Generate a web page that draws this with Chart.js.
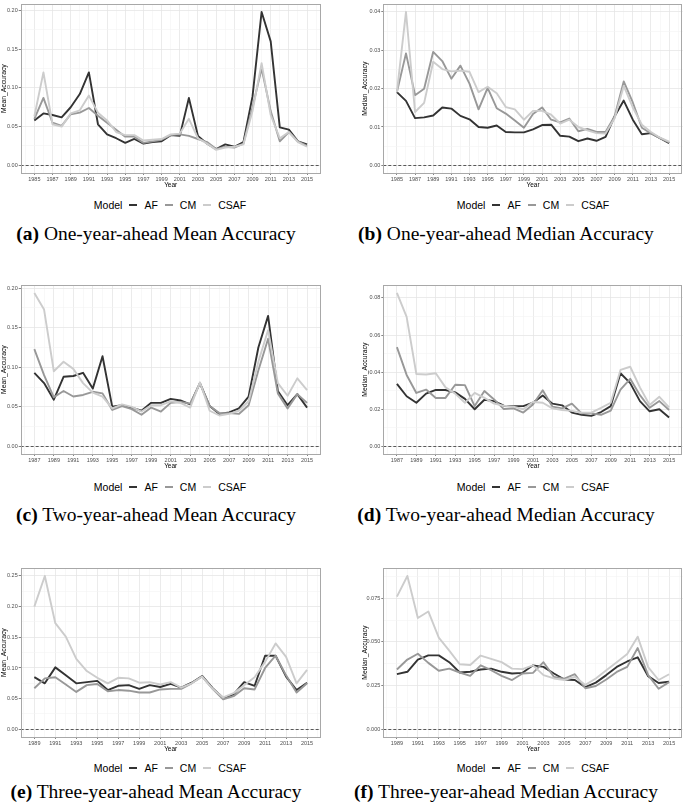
<!DOCTYPE html>
<html>
<head>
<meta charset="utf-8">
<script src="https://cdn.jsdelivr.net/npm/chart.js@4.4.1/dist/chart.umd.min.js"></script>
<style>
  body { margin: 0; background: #fff; width: 685px; height: 802px; position: relative; overflow: hidden;
         font-family: "Liberation Sans", Arial, sans-serif; }
  canvas { position: absolute; }
  .legend { position: absolute; display: flex; align-items: center; justify-content: center; gap: 7px;
            font-size: 10.5px; height: 14px; color: #000; }
  .legend i { display: inline-block; width: 8px; height: 2px; }
  .cap { position: absolute; text-align: center; white-space: nowrap;
         font-family: "Liberation Serif", "DejaVu Serif", serif; font-size: 19.5px; line-height: 22px; }
</style>
</head>
<body>

<canvas id="c-a" width="325" height="189" style="left:0;top:0"></canvas>
<canvas id="c-b" width="345" height="189" style="left:340px;top:0"></canvas>
<canvas id="c-c" width="325" height="189" style="left:0;top:281px"></canvas>
<canvas id="c-d" width="345" height="189" style="left:340px;top:281px"></canvas>
<canvas id="c-e" width="325" height="189" style="left:0;top:564px"></canvas>
<canvas id="c-f" width="345" height="189" style="left:340px;top:564px"></canvas>

<div class="legend" style="left:0;width:340px;top:198px"><span>Model</span><i style="background:#333"></i><span>AF</span><i style="background:#989898"></i><span>CM</span><i style="background:#ccc"></i><span>CSAF</span></div>
<div class="legend" style="left:363px;width:340px;top:198px"><span>Model</span><i style="background:#333"></i><span>AF</span><i style="background:#989898"></i><span>CM</span><i style="background:#ccc"></i><span>CSAF</span></div>
<div class="legend" style="left:0;width:340px;top:480px"><span>Model</span><i style="background:#333"></i><span>AF</span><i style="background:#989898"></i><span>CM</span><i style="background:#ccc"></i><span>CSAF</span></div>
<div class="legend" style="left:363px;width:340px;top:480px"><span>Model</span><i style="background:#333"></i><span>AF</span><i style="background:#989898"></i><span>CM</span><i style="background:#ccc"></i><span>CSAF</span></div>
<div class="legend" style="left:0;width:340px;top:761px"><span>Model</span><i style="background:#333"></i><span>AF</span><i style="background:#989898"></i><span>CM</span><i style="background:#ccc"></i><span>CSAF</span></div>
<div class="legend" style="left:363px;width:340px;top:761px"><span>Model</span><i style="background:#333"></i><span>AF</span><i style="background:#989898"></i><span>CM</span><i style="background:#ccc"></i><span>CSAF</span></div>

<div class="cap" style="left:0;width:312px;top:223px"><b>(a)</b> One-year-ahead Mean Accuracy</div>
<div class="cap" style="left:340px;width:332px;top:223px"><b>(b)</b> One-year-ahead Median Accuracy</div>
<div class="cap" style="left:0;width:312px;top:504px"><b>(c)</b> Two-year-ahead Mean Accuracy</div>
<div class="cap" style="left:340px;width:332px;top:504px"><b>(d)</b> Two-year-ahead Median Accuracy</div>
<div class="cap" style="left:0;width:312px;top:781px"><b>(e)</b> Three-year-ahead Mean Accuracy</div>
<div class="cap" style="left:340px;width:332px;top:781px"><b>(f)</b> Three-year-ahead Median Accuracy</div>

<script>
// ---- years on the x axis ----
const yearsOne = [1985,1986,1987,1988,1989,1990,1991,1992,1993,1994,1995,1996,1997,1998,1999,2000,
                  2001,2002,2003,2004,2005,2006,2007,2008,2009,2010,2011,2012,2013,2014,2015];
const yearsTwo = [1987,1988,1989,1990,1991,1992,1993,1994,1995,1996,1997,1998,1999,2000,
                  2001,2002,2003,2004,2005,2006,2007,2008,2009,2010,2011,2012,2013,2014,2015];
const yearsThree = [1989,1990,1991,1992,1993,1994,1995,1996,1997,1998,1999,2000,
                    2001,2002,2003,2004,2005,2006,2007,2008,2009,2010,2011,2012,2013,2014,2015];

// ---- (a) one-year-ahead mean accuracy ----
const afMeanOne   = [0.058,0.067,0.065,0.062,0.075,0.092,0.120,0.053,0.040,0.035,0.029,0.034,0.028,0.030,0.031,0.039,
                     0.038,0.087,0.038,0.028,0.021,0.027,0.024,0.030,0.089,0.198,0.160,0.049,0.046,0.031,0.027];
const cmMeanOne   = [0.060,0.087,0.055,0.051,0.066,0.068,0.074,0.064,0.055,0.046,0.037,0.037,0.029,0.031,0.033,0.039,
                     0.040,0.038,0.034,0.030,0.021,0.024,0.023,0.028,0.075,0.125,0.070,0.031,0.043,0.031,0.025];
const csafMeanOne = [0.063,0.120,0.053,0.050,0.067,0.071,0.090,0.068,0.058,0.043,0.039,0.039,0.032,0.033,0.034,0.040,
                     0.041,0.060,0.035,0.028,0.020,0.023,0.024,0.027,0.070,0.132,0.065,0.035,0.043,0.030,0.024];

// ---- (b) one-year-ahead median accuracy ----
const afMedOne   = [0.0191,0.0168,0.0123,0.0125,0.0130,0.0151,0.0148,0.0129,0.0120,0.0100,0.0098,0.0104,0.0087,0.0086,0.0086,0.0094,
                    0.0105,0.0106,0.0077,0.0075,0.0063,0.0070,0.0064,0.0074,0.0128,0.0169,0.0119,0.0081,0.0084,0.0071,0.0058];
const cmMedOne   = [0.0191,0.0292,0.0183,0.0200,0.0296,0.0272,0.0226,0.0260,0.0213,0.0146,0.0202,0.0149,0.0135,0.0117,0.0098,0.0134,
                    0.0151,0.0119,0.0112,0.0122,0.0089,0.0095,0.0087,0.0087,0.0128,0.0219,0.0164,0.0098,0.0083,0.0071,0.0060];
const csafMedOne = [0.0191,0.0400,0.0139,0.0163,0.0270,0.0251,0.0245,0.0247,0.0244,0.0191,0.0205,0.0188,0.0152,0.0146,0.0119,0.0142,
                    0.0142,0.0132,0.0109,0.0119,0.0100,0.0091,0.0084,0.0083,0.0123,0.0207,0.0151,0.0106,0.0087,0.0072,0.0062];

// ---- (c) two-year-ahead mean accuracy ----
const afMeanTwo   = [0.093,0.080,0.059,0.088,0.089,0.093,0.073,0.114,0.050,0.052,0.049,0.045,0.055,0.055,
                     0.060,0.058,0.053,0.080,0.051,0.041,0.043,0.048,0.063,0.125,0.165,0.070,0.052,0.066,0.049];
const cmMeanTwo   = [0.123,0.090,0.062,0.070,0.063,0.065,0.069,0.067,0.046,0.051,0.047,0.040,0.049,0.044,
                     0.055,0.056,0.054,0.080,0.051,0.042,0.042,0.041,0.052,0.096,0.136,0.067,0.048,0.066,0.055];
const csafMeanTwo = [0.194,0.173,0.095,0.107,0.098,0.080,0.068,0.063,0.048,0.053,0.050,0.044,0.052,0.052,
                     0.057,0.055,0.049,0.081,0.045,0.039,0.041,0.045,0.057,0.107,0.147,0.080,0.064,0.086,0.071];

// ---- (d) two-year-ahead median accuracy ----
const afMedTwo   = [0.0337,0.0270,0.0235,0.0284,0.0304,0.0304,0.0291,0.0256,0.0200,0.0251,0.0244,0.0219,0.0217,0.0217,
                    0.0235,0.0274,0.0230,0.0221,0.0182,0.0170,0.0164,0.0185,0.0217,0.0394,0.0341,0.0244,0.0189,0.0200,0.0155];
const cmMedTwo   = [0.0535,0.0385,0.0288,0.0306,0.0261,0.0261,0.0332,0.0330,0.0217,0.0298,0.0253,0.0201,0.0205,0.0182,
                    0.0226,0.0302,0.0214,0.0205,0.0230,0.0178,0.0178,0.0170,0.0193,0.0306,0.0364,0.0276,0.0208,0.0244,0.0196];
const csafMedTwo = [0.0827,0.0698,0.0390,0.0387,0.0394,0.0318,0.0284,0.0235,0.0288,0.0261,0.0230,0.0219,0.0214,0.0200,
                    0.0239,0.0235,0.0205,0.0196,0.0191,0.0182,0.0182,0.0207,0.0235,0.0412,0.0429,0.0318,0.0223,0.0267,0.0210];

// ---- (e) three-year-ahead mean accuracy ----
const afMeanThree   = [0.085,0.075,0.101,0.088,0.075,0.077,0.079,0.064,0.071,0.072,0.066,0.072,
                       0.069,0.074,0.068,0.076,0.087,0.067,0.051,0.057,0.077,0.071,0.120,0.120,0.086,0.064,0.076];
const cmMeanThree   = [0.067,0.083,0.085,0.073,0.061,0.072,0.074,0.062,0.064,0.063,0.060,0.060,
                       0.065,0.066,0.066,0.075,0.086,0.066,0.049,0.054,0.067,0.065,0.100,0.120,0.088,0.060,0.075];
const csafMeanThree = [0.200,0.250,0.173,0.151,0.115,0.095,0.084,0.075,0.084,0.083,0.076,0.077,
                       0.073,0.077,0.068,0.075,0.086,0.066,0.052,0.059,0.072,0.085,0.110,0.140,0.118,0.075,0.097];

// ---- (f) three-year-ahead median accuracy ----
const afMedThree   = [0.0316,0.0329,0.0399,0.0423,0.0423,0.0384,0.0325,0.0329,0.0342,0.0347,0.0329,0.0319,
                      0.0323,0.0366,0.0357,0.0319,0.0285,0.0282,0.0241,0.0267,0.0310,0.0357,0.0388,0.0412,0.0304,0.0265,0.0272];
const cmMedThree   = [0.0342,0.0399,0.0432,0.0380,0.0335,0.0347,0.0325,0.0306,0.0366,0.0338,0.0306,0.0282,
                      0.0319,0.0323,0.0384,0.0300,0.0290,0.0315,0.0235,0.0248,0.0285,0.0328,0.0357,0.0465,0.0310,0.0232,0.0270];
const csafMedThree = [0.0759,0.0877,0.0637,0.0674,0.0524,0.0450,0.0372,0.0368,0.0422,0.0403,0.0384,0.0347,
                      0.0344,0.0366,0.0310,0.0291,0.0282,0.0300,0.0254,0.0291,0.0338,0.0384,0.0431,0.0530,0.0356,0.0282,0.0315];

// y break steps (major, minor) and label decimals per panel
const panels = [
  { id: 'c-a', years: yearsOne,   af: afMeanOne,   cm: cmMeanOne,   csaf: csafMeanOne,   major: 0.05,  minor: 0.025,  dec: 2, yTitle: 'Mean_Accuracy',   right: false },
  { id: 'c-b', years: yearsOne,   af: afMedOne,    cm: cmMedOne,    csaf: csafMedOne,    major: 0.01,  minor: 0.005,  dec: 2, yTitle: 'Median_Accuracy', right: true },
  { id: 'c-c', years: yearsTwo,   af: afMeanTwo,   cm: cmMeanTwo,   csaf: csafMeanTwo,   major: 0.05,  minor: 0.025,  dec: 2, yTitle: 'Mean_Accuracy',   right: false },
  { id: 'c-d', years: yearsTwo,   af: afMedTwo,    cm: cmMedTwo,    csaf: csafMedTwo,    major: 0.02,  minor: 0.01,   dec: 2, yTitle: 'Median_Accuracy', right: true },
  { id: 'c-e', years: yearsThree, af: afMeanThree, cm: cmMeanThree, csaf: csafMeanThree, major: 0.05,  minor: 0.025,  dec: 2, yTitle: 'Mean_Accuracy',   right: false },
  { id: 'c-f', years: yearsThree, af: afMedThree,  cm: cmMedThree,  csaf: csafMedThree,  major: 0.025, minor: 0.0125, dec: 3, yTitle: 'Median_Accuracy', right: true },
];

// panel frame + dashed zero line (ggplot theme_bw look)
const frame = {
  id: 'frame',
  beforeDatasetsDraw(chart) {
    const { ctx, chartArea: a, scales: { y } } = chart;
    const y0 = Math.round(y.getPixelForValue(0)) + 0.5;
    ctx.save();
    ctx.strokeStyle = '#333';
    ctx.lineWidth = 0.8;
    ctx.setLineDash([3, 2]);
    ctx.beginPath(); ctx.moveTo(a.left, y0); ctx.lineTo(a.right, y0); ctx.stroke();
    ctx.restore();
  },
  afterDraw(chart) {
    const { ctx, chartArea: a } = chart;
    ctx.save();
    ctx.strokeStyle = '#a8a8a8';
    ctx.lineWidth = 1;
    ctx.strokeRect(Math.round(a.left) + 0.5, Math.round(a.top) + 0.5,
                   Math.round(a.right - a.left) - 1, Math.round(a.bottom - a.top));
    ctx.restore();
  }
};

const isMult = (v, step) => Math.abs(v / step - Math.round(v / step)) < 1e-6;

function drawPanel(p) {
  const x0 = p.years[0], x1 = p.years[p.years.length - 1];
  const xPad = (x1 - x0) * 0.05;
  const yHi = Math.max(...p.af, ...p.cm, ...p.csaf);
  const yPad = yHi * 0.05;
  const xMin = x0 - xPad, xMax = x1 + xPad, yMin = -yPad, yMax = yHi + yPad;

  const series = [
    { label: 'AF',   vals: p.af,   color: '#333333', order: 2 },
    { label: 'CM',   vals: p.cm,   color: '#989898', order: 1 },
    { label: 'CSAF', vals: p.csaf, color: '#cccccc', order: 0 },
  ];

  new Chart(document.getElementById(p.id), {
    type: 'line',
    data: {
      datasets: series.map(s => ({
        label: s.label, order: s.order,
        data: s.vals.map((v, i) => ({ x: p.years[i], y: v })),
        borderColor: s.color, borderWidth: 1.9, borderJoinStyle: 'round',
        pointRadius: 0, tension: 0, fill: false
      }))
    },
    options: {
      responsive: false,
      animation: false,
      layout: { padding: { top: 2, bottom: 0, left: p.right ? 21 : 0, right: p.right ? 2.3 : 4.3 } },
      plugins: { legend: { display: false }, tooltip: { enabled: false } },
      scales: {
        x: {
          type: 'linear', min: xMin, max: xMax,
          afterBuildTicks: s => {
            const t = [];
            for (let v = Math.ceil(xMin); v <= xMax; v++) t.push({ value: v });
            s.ticks = t;
          },
          afterFit: s => { s.height = 16; },
          ticks: {
            autoSkip: false, maxRotation: 0, padding: 1, color: '#4d4d4d',
            font: { size: 5.5, family: 'Liberation Sans' },
            callback: v => ((v - x0) % 2 === 0 ? String(v) : '')
          },
          grid: {
            color: c => ((c.tick.value - x0) % 2 === 0 ? '#e6e6e6' : '#f4f4f4'),
            lineWidth: c => ((c.tick.value - x0) % 2 === 0 ? 0.8 : 0.6),
            tickLength: 2,
            tickColor: c => ((c.tick.value - x0) % 2 === 0 ? '#333' : 'rgba(0,0,0,0)'),
            tickWidth: 0.6
          },
          border: { display: false },
          title: { display: true, text: 'Year', color: '#000', padding: 0,
                   font: { size: 6.5, family: 'Liberation Sans' } }
        },
        y: {
          min: yMin, max: yMax,
          afterBuildTicks: s => {
            const t = [];
            for (let k = Math.ceil(yMin / p.minor); k * p.minor <= yMax; k++) t.push({ value: k * p.minor });
            s.ticks = t;
          },
          afterFit: s => { s.width = p.right ? 22.3 : 20.7; },
          ticks: {
            autoSkip: false, padding: 1, color: '#4d4d4d',
            font: { size: 5.5, family: 'Liberation Sans' },
            callback: v => (isMult(v, p.major) ? Math.abs(v).toFixed(p.dec) : '')
          },
          grid: {
            color: c => (isMult(c.tick.value, p.major) ? '#e6e6e6' : '#f4f4f4'),
            lineWidth: c => (isMult(c.tick.value, p.major) ? 0.8 : 0.6),
            tickLength: 2,
            tickColor: c => (isMult(c.tick.value, p.major) ? '#333' : 'rgba(0,0,0,0)'),
            tickWidth: 0.6
          },
          border: { display: false },
          title: { display: true, text: p.yTitle, color: '#000', padding: 0,
                   font: { size: 6.8, family: 'Liberation Sans' } }
        }
      }
    },
    plugins: [frame]
  });
}

panels.forEach(drawPanel);
</script>
</body>
</html>
